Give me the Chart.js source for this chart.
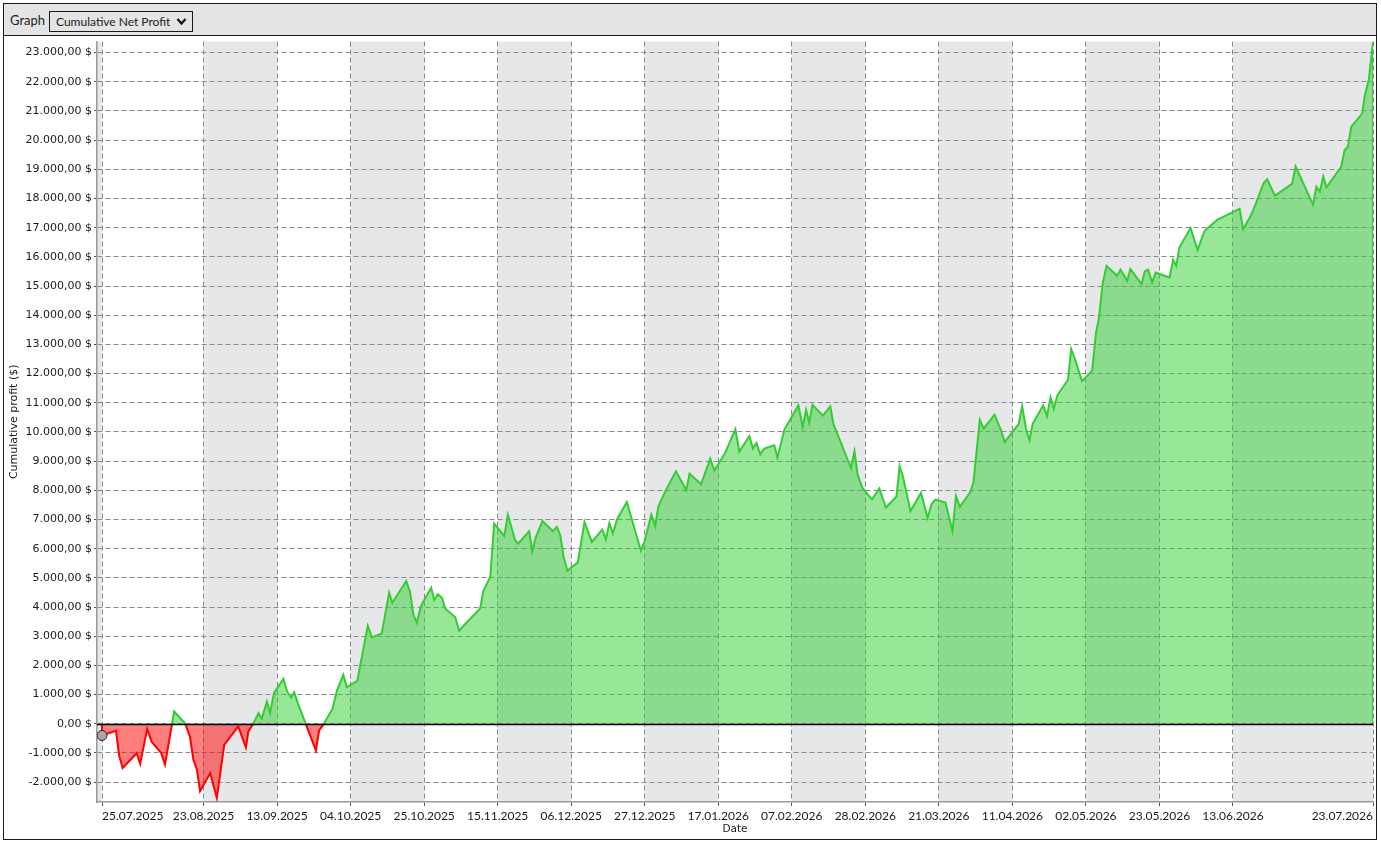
<!DOCTYPE html>
<html>
<head>
<meta charset="utf-8">
<title>Cumulative Net Profit</title>
<script src="https://cdn.jsdelivr.net/npm/chart.js@4/dist/chart.umd.min.js"></script>
<style>
  html, body { margin: 0; padding: 0; background: #fff; }
  body { width: 1381px; height: 844px; position: relative; overflow: hidden; font-family: Lato, "Noto Sans", sans-serif; }
  #panel { position: absolute; left: 3px; top: 3px; width: 1372px; height: 835px; border: 1px solid #1a1a1a; }
  #toolbar { position: absolute; left: 0; top: 0; width: 1372px; height: 31px; background: #e4e4e4; border-bottom: 1px solid #1a1a1a; }
  #toolbar .lbl { position: absolute; left: 6px; top: 8px; font-size: 13px; color: #222; }
  #toolbar .sel { position: absolute; left: 45px; top: 7px; width: 142px; height: 19px; border: 1px solid #1a1a1a; font-size: 12px; color: #222; line-height: 19px; box-sizing: content-box; }
  #toolbar .sel span { position: absolute; left: 6px; top: 0; }
  #toolbar .sel svg { position: absolute; right: 5px; top: 5px; }
  #wrap { position: absolute; left: 0; top: 29px; width: 1372px; height: 806px; }
</style>
</head>
<body>
<div id="panel">
  <div id="toolbar">
    <div class="lbl">Graph</div>
    <div class="sel"><span>Cumulative Net Profit</span>
      <svg width="11" height="9" viewBox="0 0 11 9"><path d="M1.5 2 L5.5 6.5 L9.5 2" fill="none" stroke="#111" stroke-width="2.2"/></svg>
    </div>
  </div>
  <div id="wrap"><canvas id="grafico"></canvas></div>
</div>
<script>
// ==============================
// DATOS
// ==============================
// day = days since 25.07.2025, profit = cumulative net profit in $
const tradeDay = [
  0, 0, 4.0, 4.9, 5.9, 9.9, 10.9, 12.9, 14.2, 16.9, 18.0, 20.6, 23.7, 25.1, 26.1, 27.1, 28.0, 30.9, 32.8, 34.9,
  38.9, 41.1, 41.8, 43.2, 44.7, 45.6, 47.1, 48.0, 49.1, 51.8, 52.9, 54.0, 54.9, 55.9, 61.1, 62.0, 63.2, 65.8, 67.1, 68.9,
  69.9, 72.9, 75.9, 77.1, 79.9, 82.0, 82.9, 86.9, 88.0, 88.9, 89.9, 91.1, 94.0, 94.9, 95.9, 97.1, 98.0, 100.9, 102.0, 103.2,
  108.0, 108.9, 110.9, 112.0, 114.9, 115.9, 118.0, 118.9, 122.0, 122.9, 123.9, 125.8, 128.8, 129.9, 130.9, 131.8, 132.9, 135.9, 137.8, 139.9,
  142.9, 143.9, 144.9, 145.9, 147.1, 149.9, 153.9, 154.9, 156.9, 158.0, 158.9, 161.1, 163.9, 166.9, 167.8, 171.1, 173.7, 174.9, 178.0, 180.9,
  182.0, 184.9, 185.9, 186.9, 188.0, 189.1, 192.0, 192.9, 194.9, 198.9, 200.1, 201.1, 202.0, 202.9, 205.9, 208.0, 208.9, 213.9, 214.9, 215.8,
  217.1, 219.9, 222.0, 223.9, 226.9, 227.8, 228.8, 230.9, 233.9, 235.8, 236.9, 238.0, 240.9, 242.9, 243.9, 245.0, 248.0, 248.9, 250.7, 251.8,
  254.9, 256.8, 257.8, 261.8, 262.8, 263.9, 264.9, 265.8, 268.8, 269.9, 270.9, 271.8, 272.9, 275.9, 276.8, 277.7, 279.9, 282.8, 283.9, 284.7,
  285.8, 286.9, 289.9, 290.9, 292.8, 293.7, 296.9, 297.8, 298.8, 299.9, 300.9, 304.9, 305.9, 306.8, 307.7, 308.8, 310.9, 312.9, 314.9, 318.5,
  323.1, 324.9, 325.9, 327.8, 328.9, 331.8, 332.8, 335.0, 339.9, 340.9, 345.9, 346.8, 347.8, 348.8, 349.7, 353.9, 354.9, 355.8, 356.8, 359.9,
  360.6, 361.8, 363, 363
];
const cumProfit = [
  0, -400, -240, -1100, -1515, -1010, -1370, -180, -620, -1000, -1400, 420, 20, -430, -1230, -1570, -2310, -1690, -2540, -720,
  -90, -810, -260, 0, 365, 170, 760, 365, 1050, 1540, 1100, 900, 1080, 710, -910, -230, -30, 510, 1140, 1680,
  1250, 1470, 3360, 2960, 3100, 4490, 4150, 4890, 4520, 3750, 3460, 4040, 4660, 4240, 4440, 4320, 3950, 3650, 3190, 3350,
  3950, 4550, 5040, 6860, 6430, 7170, 6290, 6180, 6600, 5910, 6400, 6950, 6600, 6750, 6460, 5740, 5240, 5530, 6920, 6230,
  6660, 6320, 6880, 6520, 7010, 7600, 5930, 6230, 7170, 6780, 7450, 8020, 8650, 8000, 8570, 8210, 9080, 8680, 9290, 10090,
  9330, 9860, 9430, 9620, 9230, 9430, 9540, 9120, 10090, 10910, 10170, 10760, 10310, 10930, 10560, 10880, 10280, 8760, 9340, 8550,
  8090, 7690, 8060, 7410, 7790, 8830, 8450, 7290, 7910, 7050, 7520, 7680, 7580, 6600, 7800, 7430, 7940, 8280, 10420, 10110,
  10590, 10050, 9650, 10280, 10880, 10110, 9710, 10280, 10910, 10540, 11190, 10790, 11270, 11790, 12840, 12560, 11740, 12100, 13410, 13870,
  15100, 15690, 15350, 15560, 15180, 15580, 15070, 15500, 15560, 15120, 15460, 15290, 15900, 15690, 16320, 16550, 16980, 16240, 16890, 17270,
  17540, 17650, 16950, 17340, 17630, 18540, 18660, 18090, 18510, 19100, 17780, 18400, 18230, 18750, 18380, 19080, 19660, 19760, 20460, 20910,
  21500, 22070, 23360, 0
];
const tickLabels = [
  "25.07.2025", "23.08.2025", "13.09.2025", "04.10.2025", "25.10.2025", "15.11.2025", "06.12.2025", "27.12.2025", "17.01.2026",
  "07.02.2026", "28.02.2026", "21.03.2026", "11.04.2026", "02.05.2026", "23.05.2026", "13.06.2026", "23.07.2026"
];
const yTicks = [-2000, -1000, 0, 1000, 2000, 3000, 4000, 5000, 6000, 7000, 8000, 9000, 10000, 11000, 12000,
  13000, 14000, 15000, 16000, 17000, 18000, 19000, 20000, 21000, 22000, 23000];

// ==============================
// HELPERS
// ==============================
const BASE = Date.UTC(2025, 6, 25);
function aDia(s) {
    const [d, m, y] = s.split(".").map(Number);
    return Math.round((Date.UTC(y, m - 1, d) - BASE) / 86400000);
}
function aFecha(n) {
    const t = new Date(BASE + n * 86400000);
    const dd = String(t.getUTCDate()).padStart(2, "0");
    const mm = String(t.getUTCMonth() + 1).padStart(2, "0");
    return dd + "." + mm + "." + t.getUTCFullYear();
}
function dinero(v) {
    const neg = v < 0;
    const partes = Math.abs(v).toFixed(2).split(".");
    const ent = partes[0].replace(/\B(?=(\d{3})+(?!\d))/g, ".");
    return (neg ? "-" : "") + ent + "," + partes[1] + " $";
}
const tickDays = tickLabels.map(aDia);

const VERDE = "rgb(50,205,50)";
const ROJO = "rgb(255,0,0)";

// bandas grises alternas + linea de cero
const bandas = {
    id: "bandas",
    beforeDraw(chart) {
        const { ctx, chartArea: a, scales: { x } } = chart;
        ctx.save();
        ctx.fillStyle = "#e6e7e9";
        ctx.fillRect(a.left, a.top, x.getPixelForValue(tickDays[0]) - a.left, a.bottom - a.top);
        for (let i = 1; i < tickDays.length - 1; i += 2) {
            const x0 = x.getPixelForValue(tickDays[i]);
            const x1 = Math.min(x.getPixelForValue(tickDays[i + 1]), a.right);
            ctx.fillRect(x0, a.top, x1 - x0, a.bottom - a.top);
        }
        ctx.restore();
    },
    afterDatasetsDraw(chart) {
        const { ctx, chartArea: a, scales: { y } } = chart;
        const y0 = Math.round(y.getPixelForValue(0)) + 0.5;
        ctx.save();
        ctx.strokeStyle = "#000";
        ctx.lineWidth = 1.5;
        ctx.beginPath();
        ctx.moveTo(a.left, y0);
        ctx.lineTo(a.right, y0);
        ctx.stroke();
        ctx.restore();
    }
};

function colorLinea(c) {
    const chart = c.chart;
    const a = chart.chartArea;
    if (!a) return VERDE;
    const y0 = chart.scales.y.getPixelForValue(0);
    const f = Math.min(1, Math.max(0, (y0 - a.top) / (a.bottom - a.top)));
    const g = chart.ctx.createLinearGradient(0, a.top, 0, a.bottom);
    g.addColorStop(0, VERDE);
    g.addColorStop(f, VERDE);
    g.addColorStop(f, ROJO);
    g.addColorStop(1, ROJO);
    return g;
}

// ==============================
// GRÁFICA
// ==============================
Chart.defaults.font.family = "Lato, 'Noto Sans', sans-serif";
Chart.defaults.font.size = 12;
Chart.defaults.color = "#1a1a1a";
const ANCHA = "'DejaVu Sans', sans-serif";

new Chart(document.getElementById("grafico"), {
    type: "line",
    data: {
        datasets: [{
            label: "Cumulative Net Profit",
            data: tradeDay.map((d, i) => ({ x: d, y: cumProfit[i] })),
            borderColor: colorLinea,
            borderWidth: 2,
            fill: { target: "origin", above: "rgba(50,205,50,0.5)", below: "rgba(255,0,0,0.5)" },
            pointRadius: tradeDay.map((d, i) => i === 1 ? 5 : 0),
            pointBackgroundColor: "#b9a0a0",
            pointBorderColor: "#222",
            pointBorderWidth: 1,
            tension: 0
        }]
    },
    options: {
        responsive: true,
        maintainAspectRatio: false,
        animation: false,
        layout: { padding: { left: 0, top: 0, right: 3, bottom: 0 } },
        plugins: { legend: { display: false }, tooltip: { enabled: false } },
        scales: {
            x: {
                type: "linear",
                min: -1.43,
                max: 363,
                afterBuildTicks: s => { s.ticks = tickDays.map(v => ({ value: v })); },
                afterFit: s => { s.height = 37; },
                ticks: {
                    autoSkip: false, maxRotation: 0, align: "inner", padding: 3,
                    callback: v => aFecha(v), font: { size: 12 }
                },
                grid: { color: "#8a8a8a", lineWidth: 1, tickLength: 4, tickColor: "#555", tickBorderDash: [] },
                border: { display: true, color: "#9a9a9a", width: 1.5, dash: [5, 3] },
                title: { display: true, text: "Date", font: { family: ANCHA, size: 10.5 }, padding: { top: 0, bottom: 3 } }
            },
            y: {
                min: -2680,
                max: 23375,
                afterBuildTicks: s => { s.ticks = yTicks.map(v => ({ value: v })); },
                afterFit: s => { s.width = 93; },
                ticks: { callback: v => dinero(v), padding: 2, font: { family: ANCHA, size: 11 } },
                grid: { color: "#8a8a8a", lineWidth: 1, tickLength: 3, tickColor: "#555", tickBorderDash: [] },
                border: { display: true, color: "#9a9a9a", width: 1.5, dash: [5, 3] },
                title: { display: true, text: "Cumulative profit ($)", font: { family: ANCHA, size: 11 }, padding: { top: 4, bottom: 4 } }
            }
        }
    },
    plugins: [bandas]
});
</script>
</body>
</html>
